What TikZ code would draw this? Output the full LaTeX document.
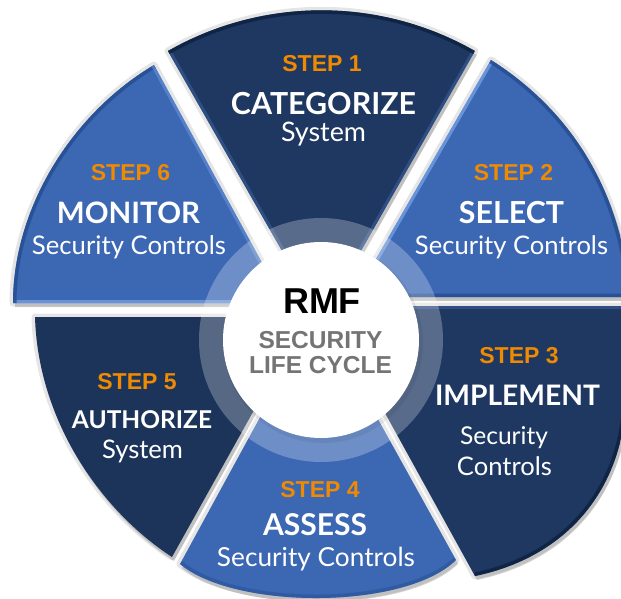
\documentclass[tikz,border=0pt]{standalone}
\usepackage{fontspec}
\setmainfont{Lato}
\newfontfamily\lsans{Liberation Sans}
\usepackage{graphicx}
\definecolor{navy}{HTML}{1E3862}
\definecolor{navylight}{HTML}{33548A}
\definecolor{navydark}{HTML}{0E2240}
\definecolor{midblue}{HTML}{3B67B3}
\definecolor{midlight}{HTML}{6E9BE2}
\definecolor{middark}{HTML}{274E92}
\definecolor{stepor}{HTML}{F08A00}
\definecolor{ctrgray}{HTML}{747474}
\begin{document}
\begin{tikzpicture}[x=1pt,y=-1pt,
  steplbl/.style={font=\lsans\bfseries\fontsize{23}{23}\selectfont, text=stepor, inner sep=0pt, anchor=base},
  ttl/.style={text=white, inner sep=0pt, anchor=base, font=\bfseries},
  sub/.style={text=white, inner sep=0pt, anchor=base},
  ctr/.style={inner sep=0pt, anchor=base, font=\lsans\bfseries},
  halo/.style={draw=black, draw opacity=0.10, line width=7pt, line join=round},
  dropsh/.style={fill=black, fill opacity=0.16},
  edgehi/.style={line width=6pt, line join=round, draw opacity=0.85},
  edgedk/.style={line width=7pt, line join=round, draw opacity=0.85}]
\useasboundingbox (0,0) rectangle (621,599);
\clip (0,0) rectangle (621,599);
\fill[white] (0,0) rectangle (621,599);

% segment outlines
\def\segA{(321.5,320) -- (168,51) arc[start angle=-119.7,end angle=-60.3,radius=309.7] -- cycle}
\def\segB{(354,297) -- (491,60) .. controls (570,110) and (622,190) .. (630,297) -- cycle}
\def\segC{(326,306) -- (628,306) -- (626,395) .. controls (625,480) and (575,555) .. (475,576) -- cycle}
\def\segD{(318,311) -- (180,564) .. controls (235,610) and (405,610) .. (456,560) -- cycle}
\def\segE{(306,317) -- (35,317) .. controls (38,420) and (100,510) .. (172,557) -- cycle}
\def\segF{(284,303) -- (13,303) .. controls (13,210) and (70,115) .. (154,65) -- cycle}

% soft shadows
\foreach \p in {\segA,\segB,\segC,\segD,\segE,\segF}{
  \path[halo] \p;
  \path[dropsh, shift={(2,4)}] \p;
}

% step 1
\fill[navy] \segA;
\begin{scope}
  \clip \segA;
  \draw[navylight, edgehi] (168,51) -- (321.5,320) -- (475,51);
  \draw[navydark, edgedk] (168,51) arc[start angle=-119.7,end angle=-60.3,radius=309.7];
\end{scope}
% step 2
\fill[midblue] \segB;
\begin{scope}
  \clip \segB;
  \draw[midlight, edgehi] (491,60) -- (354,297);
  \draw[middark, edgedk] (491,60) .. controls (570,110) and (622,190) .. (630,297) -- (354,297);
\end{scope}
% step 3
\fill[navy] \segC;
\begin{scope}
  \clip \segC;
  \draw[navylight, edgehi] (326,306) -- (628,306);
  \draw[navydark, edgedk] (626,395) .. controls (625,480) and (575,555) .. (475,576);
\end{scope}
% step 4
\fill[midblue] \segD;
\begin{scope}
  \clip \segD;
  \draw[middark, edgedk, draw opacity=0.5] (180,564) .. controls (235,610) and (405,610) .. (456,560);
\end{scope}
% step 5
\fill[navy!92!black] \segE;
% step 6
\fill[midblue] \segF;
\begin{scope}
  \clip \segF;
  \draw[midlight, edgehi] (284,303) -- (13,303);
  \draw[middark, edgedk] (13,303) .. controls (13,210) and (70,115) .. (154,65);
  \draw[midlight, edgehi, draw opacity=0.5] (154,65) -- (284,303);
\end{scope}

% centre ring and disc
\fill[white, opacity=0.26] (321,340) circle[radius=122];
\fill[black, opacity=0.06] (323,343) circle[radius=100];
\node[circle, fill=white, minimum size=196pt, inner sep=0pt] (hub) at (321,340) {};

% centre text
\node[ctr, font=\lsans\bfseries\fontsize{36}{36}\selectfont, text=black] (rmf) at (322,313) {RMF};
\node[ctr, font=\lsans\bfseries\fontsize{24.5}{24.5}\selectfont, text=ctrgray] (sec) at (320.5,348) {SECURITY};
\node[ctr, font=\lsans\bfseries\fontsize{24.5}{24.5}\selectfont, text=ctrgray] (lc) at (320.5,373) {LIFE CYCLE};

% step labels
\foreach \n/\x/\y in {1/322/72, 2/513.5/180, 3/519/363, 4/320/497, 5/137/389, 6/130.5/180}{
  \node[steplbl] (st\n) at (\x,\y) {STEP \n};
}

% titles
\node[ttl] (t1) at (323.5,114) {\resizebox{185pt}{!}{CATEGORIZE}};
\node[sub] (u1) at (323.5,142) {\resizebox{85pt}{!}{System}};
\node[ttl] (t2) at (511.5,223) {\resizebox{105pt}{!}{SELECT}};
\node[sub] (u2) at (511.5,254) {\resizebox{193pt}{!}{Security Controls}};
\node[ttl] (t3) at (517.5,405) {\resizebox{165pt}{!}{IMPLEMENT}};
\node[sub] (u3) at (504,444) {\resizebox{88pt}{!}{Security}};
\node[sub] (v3) at (504.5,475) {\resizebox{95pt}{!}{Controls}};
\node[ttl] (t4) at (315,535) {\resizebox{104pt}{!}{ASSESS}};
\node[sub] (u4) at (316,566) {\resizebox{198pt}{!}{Security Controls}};
\node[ttl] (t5) at (142,428) {\resizebox{140pt}{!}{AUTHORIZE}};
\node[sub] (u5) at (142.5,458) {\resizebox{81pt}{!}{System}};
\node[ttl] (t6) at (128.5,223) {\resizebox{143pt}{!}{MONITOR}};
\node[sub] (u6) at (129,254) {\resizebox{194pt}{!}{Security Controls}};
\end{tikzpicture}
\end{document}
